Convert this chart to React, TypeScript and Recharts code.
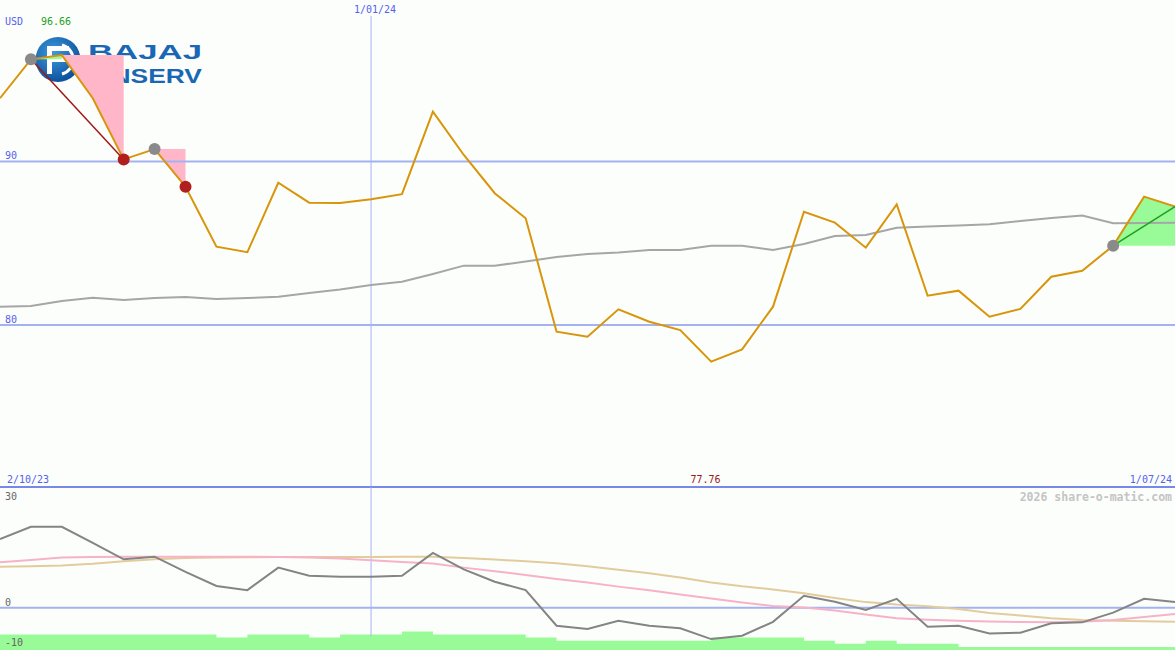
import React from 'react';
import { ComposedChart, Line, Area, XAxis, YAxis, ReferenceLine } from 'recharts';

// ---- Data (weekly, 2/10/23 .. 1/07/24) ----
const dateLabels = ['2/10/23', '1/01/24', '1/07/24'];
const currency = 'USD';
const maxLabel = '96.66';
const minLabel = '77.76';
const watermark = '2026 share-o-matic.com';
const upperTicks = [90, 80];
const lowerTicks = [30, 0, -10];
const newYearIndex = 12;

const price = [93.87, 96.25, 96.51, 93.87, 90.13, 90.76, 88.46, 84.79, 84.45, 88.7, 87.48, 87.46, 87.69, 88.0,
  93.05, 90.4, 88.06, 86.53, 79.59, 79.28, 80.96, 80.2, 79.69, 77.76, 78.51, 81.12, 86.93, 86.26, 84.73, 87.38,
  81.79, 82.1, 80.51, 80.98, 82.95, 83.32, 84.85, 87.85, 87.24];

const movingAvg = [81.12, 81.16, 81.47, 81.67, 81.53, 81.65, 81.71, 81.59, 81.65, 81.73, 81.96, 82.17, 82.45, 82.65,
  83.12, 83.63, 83.63, 83.88, 84.16, 84.34, 84.43, 84.59, 84.59, 84.85, 84.85, 84.59, 84.95, 85.44, 85.5, 85.95,
  86.02, 86.09, 86.16, 86.36, 86.54, 86.69, 86.22, 86.24, 86.26];

const oscillator = [19.5, 23.0, 23.0, 18.4, 13.75, 14.5, 10.2, 6.2, 5.0, 11.4, 9.1, 8.8, 8.8, 9.1, 15.6, 10.9, 7.4,
  5.0, -5.1, -6.05, -3.7, -5.1, -5.85, -8.9, -7.95, -4.0, 3.4, 1.7, -0.65, 2.55, -5.4, -5.1, -7.3, -7.1, -4.4, -4.15,
  -1.4, 2.55, 1.6];

const pinkAvg = [12.9, 13.55, 14.3, 14.4, 14.5, 14.5, 14.5, 14.5, 14.5, 14.4, 14.3, 14.0, 13.5, 13.0, 12.6, 11.4,
  10.4, 9.3, 8.2, 7.15, 6.0, 4.95, 3.75, 2.6, 1.5, 0.5, 0.05, -0.8, -1.9, -3.0, -3.4, -3.7, -3.9, -4.05, -4.15, -4.0,
  -3.5, -2.65, -1.8];

const tanAvg = [11.65, 11.8, 12.0, 12.5, 13.2, 13.8, 14.1, 14.3, 14.35, 14.4, 14.4, 14.45, 14.45, 14.5, 14.5, 14.15,
  13.7, 13.2, 12.65, 11.8, 10.8, 9.8, 8.6, 7.2, 6.1, 5.2, 4.1, 2.8, 1.6, 0.9, 0.4, -0.35, -1.5, -2.2, -3.0, -3.5,
  -3.7, -3.85, -4.0];

const volumeLevel = [5, 5, 5, 5, 5, 5, 5, 4, 5, 5, 4, 5, 5, 6, 5, 5, 5, 4, 3, 3, 3, 3, 3, 4, 4, 4, 3, 2, 3, 2, 2,
  1, 1, 1, 1, 1, 1, 1, 1];

// signal zones: [start, end]
const fallZones = [[2, 4], [5, 6]];
const riseZones = [[1, 2], [36, 38]];
const fallTrend = [1, 4];
const riseTrend = [36, 38];
const grayMarks = [1, 5, 36];
const redMarks = [4, 6];

const upperDomain = [70.09, 99.88];
const lowerDomain = [-12.0, 34.3];

const rows = price.map((p, i) => {
  const r: any = { i, price: p, ma: movingAvg[i], osc: oscillator[i], pink: pinkAvg[i], tan: tanAvg[i], vol: volumeLevel[i] };
  fallZones.forEach(([s, e], k) => {
    r['fall' + k] = i >= s && i <= e ? [price[i], price[s]] : null;
  });
  riseZones.forEach(([s, e], k) => {
    r['rise' + k] = i >= s && i <= e ? [price[s], price[i]] : null;
  });
  r.fallTrend = i === fallTrend[0] || i === fallTrend[1] ? p : null;
  r.riseTrend = i === riseTrend[0] || i === riseTrend[1] ? p : null;
  r.grayMark = grayMarks.includes(i) ? p : null;
  r.redMark = redMarks.includes(i) ? p : null;
  return r;
});

const W = 1175;
const TOP_H = 487;
const BOT_H = 163;
const BG = '#fcfefc';
const GRID = '#a4b2f2';
const BLUE_TXT = '#5262ee';
const mono = '"DejaVu Sans Mono", monospace';

const Logo = () => (
  <svg width={W} height={TOP_H} style={{ position: 'absolute', left: 0, top: 0 }}>
    <defs>
      <radialGradient id="lg" cx="40%" cy="35%" r="70%">
        <stop offset="0%" stopColor="#3d9ae0" />
        <stop offset="100%" stopColor="#0b4d96" />
      </radialGradient>
    </defs>
    <circle cx={58} cy={59.5} r={22.5} fill="url(#lg)" />
    <path d="M47 46 h22 v5 h-17 v6 h14 v5 h-14 v12 h-5 z" fill="#ffffff" />
    <path d="M62 45 a15 15 0 0 1 0 29" stroke="#ffffff" strokeWidth={3} fill="none" />
    <text x={88} y={59} fontFamily='"Liberation Sans", Arial, sans-serif' fontWeight="bold" fontSize={21}
      fill="#1a67b4" textLength={114} lengthAdjust="spacingAndGlyphs">BAJAJ</text>
    <text x={88} y={83} fontFamily='"Liberation Sans", Arial, sans-serif' fontWeight="bold" fontSize={20}
      fill="#1a67b4" textLength={114} lengthAdjust="spacingAndGlyphs">FINSERV</text>
  </svg>
);

const App = () => {
  const dotGray = (props: any) => {
    const { cx, cy, index } = props;
    if (cy == null || isNaN(cy)) return <g key={'g' + index} />;
    return <circle key={'g' + index} cx={cx} cy={cy} r={6} fill="#8a8a8a" />;
  };
  const dotRed = (props: any) => {
    const { cx, cy, index } = props;
    if (cy == null || isNaN(cy)) return <g key={'r' + index} />;
    return <circle key={'r' + index} cx={cx} cy={cy} r={6} fill="#b01e1e" />;
  };
  return (
    <div style={{ position: 'absolute', left: 0, top: 0, width: W, height: 650, background: BG, overflow: 'hidden' }}>
      <Logo />
      <div style={{ position: 'absolute', left: 0, top: 0 }}>
        <ComposedChart width={W} height={TOP_H} data={rows} margin={{ top: 0, right: 0, bottom: 0, left: 0 }}>
          <XAxis type="number" dataKey="i" domain={[0, price.length - 1]} hide />
          <YAxis domain={upperDomain} hide allowDataOverflow />
          {upperTicks.map((t) => (
            <ReferenceLine key={t} y={t} stroke={GRID} strokeWidth={2} />
          ))}
          <ReferenceLine segment={[{ x: newYearIndex, y: 98.9 }, { x: newYearIndex, y: upperDomain[0] }]} stroke={GRID} strokeWidth={1} />
          {fallZones.map((_, k) => (
            <Area key={'f' + k} dataKey={'fall' + k} type="linear" fill="#ffb6c9" fillOpacity={1} stroke="none" isAnimationActive={false} />
          ))}
          {riseZones.map((_, k) => (
            <Area key={'r' + k} dataKey={'rise' + k} type="linear" fill="#98fb98" fillOpacity={1} stroke="none" isAnimationActive={false} />
          ))}
          <Line dataKey="ma" type="linear" stroke="#a6a6a6" strokeWidth={2} dot={false} activeDot={false} isAnimationActive={false} />
          <Line dataKey="grayMark" stroke="none" dot={dotGray} activeDot={false} isAnimationActive={false} />
          <Line dataKey="redMark" stroke="none" dot={dotRed} activeDot={false} isAnimationActive={false} />
          <Line dataKey="fallTrend" type="linear" connectNulls stroke="#a01818" strokeWidth={1.5} dot={false} activeDot={false} isAnimationActive={false} />
          <Line dataKey="price" type="linear" stroke="#d8950a" strokeWidth={2} dot={false} activeDot={false} isAnimationActive={false} />
          <Line dataKey="riseTrend" type="linear" connectNulls stroke="#1f9e1f" strokeWidth={1.5} dot={false} activeDot={false} isAnimationActive={false} />
        </ComposedChart>
      </div>
      <div style={{ position: 'absolute', left: 0, top: 486, width: W, height: 2, background: '#7888e8' }} />
      <div style={{ position: 'absolute', left: 0, top: TOP_H }}>
        <ComposedChart width={W} height={BOT_H} data={rows} margin={{ top: 0, right: 0, bottom: 0, left: 0 }}>
          <XAxis type="number" dataKey="i" domain={[0, price.length - 1]} hide />
          <YAxis yAxisId="osc" domain={lowerDomain} hide allowDataOverflow />
          <YAxis yAxisId="vol" domain={[0, 52.6]} hide allowDataOverflow />
          <ReferenceLine yAxisId="osc" segment={[{ x: newYearIndex, y: lowerDomain[1] }, { x: newYearIndex, y: -8 }]} stroke={GRID} strokeWidth={1} />
          <ReferenceLine yAxisId="osc" y={0} stroke={GRID} strokeWidth={2} />
          <Area yAxisId="vol" dataKey="vol" type="stepAfter" fill="#98fb98" fillOpacity={1} stroke="none" isAnimationActive={false} />
          <Line yAxisId="osc" dataKey="tan" type="linear" stroke="#e2cc9c" strokeWidth={2} dot={false} activeDot={false} isAnimationActive={false} />
          <Line yAxisId="osc" dataKey="pink" type="linear" stroke="#f7b2c8" strokeWidth={2} dot={false} activeDot={false} isAnimationActive={false} />
          <Line yAxisId="osc" dataKey="osc" type="linear" stroke="#848484" strokeWidth={2} dot={false} activeDot={false} isAnimationActive={false} />
        </ComposedChart>
      </div>
      <svg width={W} height={650} style={{ position: 'absolute', left: 0, top: 0, pointerEvents: 'none' }}>
        <text x={5} y={25} fontFamily={mono} fontSize={10} fill={BLUE_TXT}>{currency}</text>
        <text x={41} y={25} fontFamily={mono} fontSize={10} fill="#22a022">{maxLabel}</text>
        <text x={5} y={159} fontFamily={mono} fontSize={10} fill={BLUE_TXT}>{upperTicks[0]}</text>
        <text x={5} y={323} fontFamily={mono} fontSize={10} fill={BLUE_TXT}>{upperTicks[1]}</text>
        <text x={375} y={13} fontFamily={mono} fontSize={10} fill={BLUE_TXT} textAnchor="middle">{dateLabels[1]}</text>
        <text x={7} y={483} fontFamily={mono} fontSize={10} fill={BLUE_TXT}>{dateLabels[0]}</text>
        <text x={705.5} y={483} fontFamily={mono} fontSize={10} fill="#a01818" textAnchor="middle">{minLabel}</text>
        <text x={1172} y={483} fontFamily={mono} fontSize={10} fill={BLUE_TXT} textAnchor="end">{dateLabels[2]}</text>
        <text x={1172} y={500.5} fontFamily={mono} fontSize={11.5} fontWeight="bold" fill="#c4c4c4" textAnchor="end">{watermark}</text>
        <text x={5} y={500} fontFamily={mono} fontSize={10} fill="#666666">{lowerTicks[0]}</text>
        <text x={5} y={606} fontFamily={mono} fontSize={10} fill="#666666">{lowerTicks[1]}</text>
        <text x={5} y={646} fontFamily={mono} fontSize={10} fill="#666666">{lowerTicks[2]}</text>
      </svg>
    </div>
  );
};

export default App;
